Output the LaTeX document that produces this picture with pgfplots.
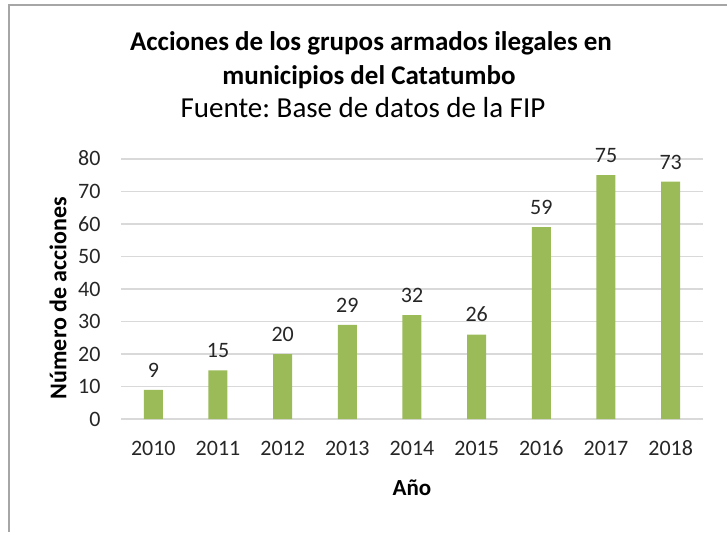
\documentclass[border=0pt]{standalone}
\usepackage{pgfplots}
\pgfplotsset{compat=1.18}
\usepackage{fontspec}
\setmainfont{Carlito}[Numbers=Lining]
\frenchspacing
\definecolor{barg}{HTML}{9BBB59}
\definecolor{gridg}{HTML}{D9D9D9}
\definecolor{frameg}{HTML}{A6A6A6}
\begin{document}
\begin{tikzpicture}[x=1pt,y=1pt]
\begin{axis}[
  at={(0,0)}, anchor=south west,
  scale only axis, width=582pt, height=260pt,
  xmin=-0.5, xmax=8.5, ymin=0, ymax=80,
  ytick={0,10,...,80},
  xtick={0,...,8},
  xticklabels={2010,2011,2012,2013,2014,2015,2016,2017,2018},
  /pgf/number format/assume math mode=true,
  ticklabel style={font=\fontsize{22}{24}\selectfont, text=black!85, text height=14pt, text depth=0pt},
  yticklabel style={xshift=-17pt},
  xticklabel style={yshift=-19pt},
  major tick length=0pt,
  ymajorgrids, grid style={gridg, line width=1.5pt},
  axis x line*=bottom, axis y line*=left,
  y axis line style={draw=none},
  x axis line style={gridg, line width=1.5pt, -},
  ybar, bar width=19pt,
  nodes near coords,
  nodes near coords style={font=\fontsize{22}{24}\selectfont, text=black!85, text height=14pt, text depth=0pt, yshift=9pt},
  clip=false,
]
\addplot[fill=barg, draw=none] coordinates {(0,9) (1,15) (2,20) (3,29) (4,32) (5,26) (6,59) (7,75) (8,73)};
\end{axis}
% px (X,Y) -> (X-121, 419-Y)
\pgfresetboundingbox
\path[use as bounding box] (-121,-113) rectangle (606,419);
\draw[frameg, line width=2pt] (-112,-113) -- (-112,414) -- (606,414);
\node[font=\fontsize{27}{30}\selectfont\bfseries, anchor=base] at (250,368) {Acciones de los grupos armados ilegales en};
\node[font=\fontsize{27}{30}\selectfont\bfseries, anchor=base] at (248,334) {municipios del Catatumbo};
\node[font=\fontsize{29}{30}\selectfont, anchor=base] at (242,301) {Fuente: Base de datos de la FIP};
\node[font=\fontsize{23}{26}\selectfont\bfseries] at (291,-69) {Año};
\node[font=\fontsize{24}{26}\selectfont\bfseries, rotate=90] at (-63,121) {Número de acciones};
\end{tikzpicture}
\end{document}
